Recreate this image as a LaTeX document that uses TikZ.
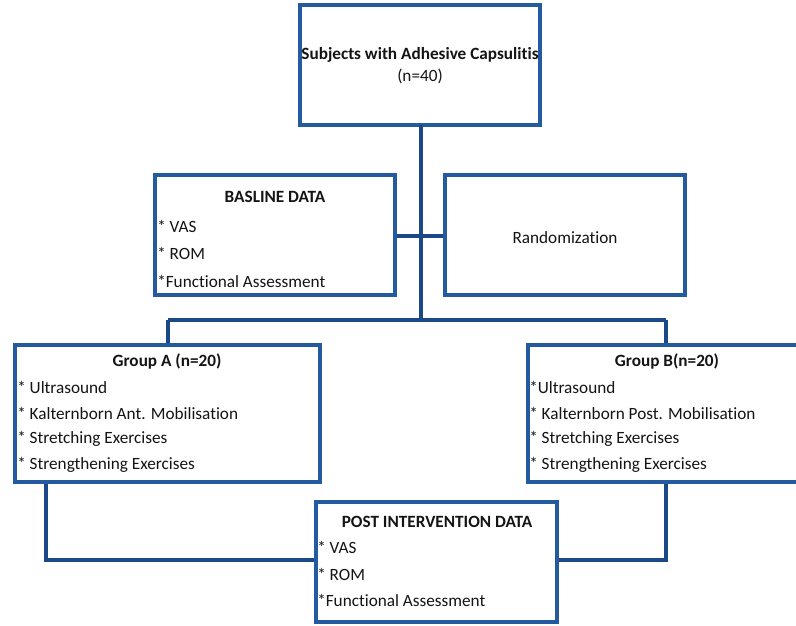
\documentclass[tikz,border=0pt]{standalone}
\usepackage{fontspec}
\setmainfont[Ligatures=NoCommon]{Carlito}
\definecolor{boxblue}{RGB}{36,90,160}
\definecolor{lineblue}{RGB}{27,72,134}
\definecolor{txt}{RGB}{20,20,20}
\newcommand{\fsz}{\fontsize{12.9}{15}\selectfont}
\begin{document}
\begin{tikzpicture}[x=0.75pt,y=-0.75pt,
  box/.style={draw=boxblue,line width=3pt,fill=white,rectangle,inner sep=0pt},
  conn/.style={draw=lineblue,line width=2.4pt},
  ttl/.style={font=\fsz\bfseries,text=txt,inner sep=0pt},
  itm/.style={font=\fsz,text=txt,inner sep=0pt,anchor=west},
  ctr/.style={font=\fsz,text=txt,inner sep=0pt}]
\useasboundingbox (0,0) rectangle (796,625);
\clip (0,0) rectangle (796,625);
% coordinates for connectors
\coordinate (busC) at (421,320);
\coordinate (busL) at (168,320);
\coordinate (busR) at (666,320);
\coordinate (aDrop) at (46,560);
\coordinate (bDrop) at (666,560);
\coordinate (topDrop) at (421,125);
% boxes
\node[box,minimum width=180pt,minimum height=90pt] (top) at (420,65) {};
\node[box,minimum width=180pt,minimum height=90pt] (base) at (275,235) {};
\node[box,minimum width=180pt,minimum height=90pt] (rand) at (565,235) {};
\node[box,minimum width=228.75pt,minimum height=102.75pt] (gA) at (167.5,413.5) {};
\node[box,minimum width=208.5pt,minimum height=102.75pt] (gB) at (667,413.5) {};
\node[box,minimum width=180.75pt,minimum height=90pt] (post) at (436.5,562) {};
% connectors
\draw[conn] (topDrop) -- (busC);
\draw[conn] (busL) -- (busR);
\draw[conn] (busL) -- (busL |- gA.north);
\draw[conn] (busR) -- (busR |- gB.north);
\draw[conn] (base.east |- 0,236) -- (rand.west |- 0,236);
\draw[conn] (aDrop |- gA.south) -- (aDrop) -- (aDrop -| post.west);
\draw[conn] (bDrop |- gB.south) -- (bDrop) -- (bDrop -| post.east);
% texts
\node[ttl] (t1) at (420,55) {Subjects with Adhesive Capsulitis};
\node[ctr] (t2) at (420,76) {(n=40)};
\node[ttl] (b0) at (275,197) {BASLINE DATA};
\node[itm] (b1) at (157,226) {* VAS};
\node[itm] (b2) at (157,253) {* ROM};
\node[itm] (b3) at (157,281) {*Functional Assessment};
\node[ctr] (r0) at (565,238) {Randomization};
\node[ttl] (a0) at (167,361) {Group A (n=20)};
\node[itm] (a1) at (17,387) {* Ultrasound};
\node[itm] (a2) at (17,413) {* Kalternborn Ant. Mobilisation};
\node[itm] (a3) at (17,439) {* Stretching Exercises};
\node[itm] (a4) at (17,465) {* Strengthening Exercises};
\node[ttl] (g0) at (667,361) {Group B(n=20)};
\node[itm] (g1) at (529,387) {*Ultrasound};
\node[itm] (g2) at (529,413) {* Kalternborn Post. Mobilisation};
\node[itm] (g3) at (529,439) {* Stretching Exercises};
\node[itm] (g4) at (529,465) {* Strengthening Exercises};
\node[ttl] (p0) at (437,522) {POST INTERVENTION DATA};
\node[itm] (p1) at (317,547) {* VAS};
\node[itm] (p2) at (317,574) {* ROM};
\node[itm] (p3) at (317,600) {*Functional Assessment};
\end{tikzpicture}
\end{document}
